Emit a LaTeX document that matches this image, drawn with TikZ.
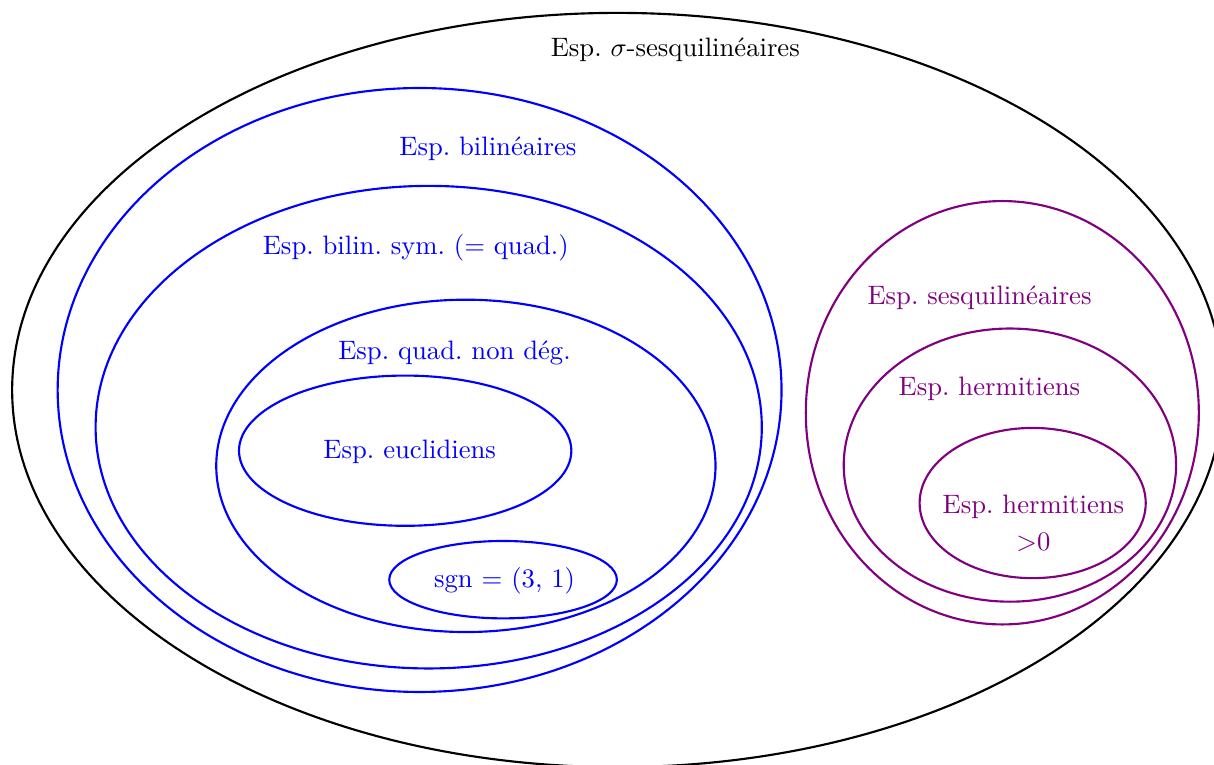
\documentclass[tikz,border=0pt]{standalone}
\usepackage{amssymb}
\usepackage{tikz}
\usetikzlibrary{positioning}
\frenchspacing

\begin{document}
\begin{tikzpicture}[thick,
  bil/.style={blue},
  ses/.style={violet},
  lbl/.style={inner sep=1pt}]
  \useasboundingbox (0,0) rectangle (16,10.08);
  \draw (8.14,4.94) ellipse (7.98 and 4.97);
  \node[lbl] (sigma) at (8.90,9.43) {Esp. $\sigma$-sesquilin\'eaires};
  \draw[bil] (5.53,4.94) ellipse (4.77 and 3.98);
  \draw[bil] (5.65,4.45) ellipse (4.39 and 3.18);
  \draw[bil] (6.14,3.94) ellipse (3.29 and 2.19);
  \draw[bil] (5.34,4.14) ellipse (2.19 and 0.99);
  \draw[bil] (6.63,2.44) ellipse (1.50 and 0.51);
  \node[lbl,bil] (bilin) at (6.43,8.12) {Esp. bilin\'eaires};
  \node[lbl,bil] (sym) at (5.48,6.82) {Esp. bilin. sym. (= quad.)};
  \node[lbl,bil] (nondeg) at (5.99,5.43) {Esp. quad. non d\'eg.};
  \node[lbl,bil] (eucl) at (5.40,4.13) {Esp. euclidiens};
  \node[lbl,bil] (sgn) at (6.65,2.43) {sgn = (3, 1)};
  \draw[ses] (13.21,4.64) ellipse (2.59 and 2.79);
  \draw[ses] (13.31,3.95) ellipse (2.19 and 1.80);
  \draw[ses] (13.61,3.45) ellipse (1.49 and 0.99);
  \node[lbl,ses] (sesq) at (12.91,6.15) {Esp. sesquilin\'eaires};
  \node[lbl,ses] (herm) at (13.04,4.95) {Esp. hermitiens};
  \node[lbl,ses,align=center] (hermpos) at (13.62,3.18) {Esp. hermitiens\\[2pt] >0};
\end{tikzpicture}
\end{document}
